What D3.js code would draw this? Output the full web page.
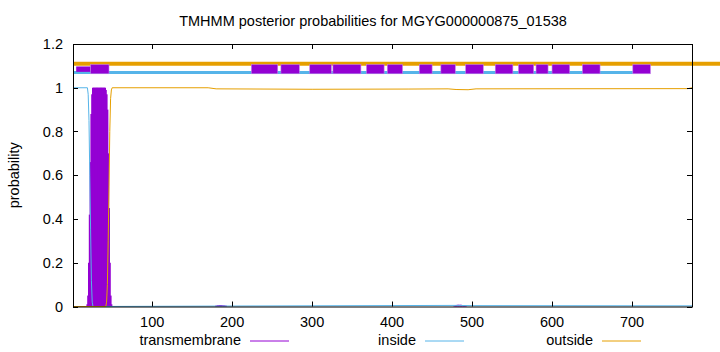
<!DOCTYPE html>
<html>
<head>
<meta charset="utf-8">
<script src="https://cdn.jsdelivr.net/npm/d3@7"></script>
<style>
  body { margin: 0; background: #fff; }
  svg { display: block; font-family: "Liberation Sans", Arial, sans-serif; }
</style>
</head>
<body>
<div id="chart"></div>
<script>
// TMHMM posterior probabilities

const title = "TMHMM posterior probabilities for MGYG000000875_01538";
const seqLength = 775;
const xTicks = [100, 200, 300, 400, 500, 600, 700];
const yTicks = [0, 0.2, 0.4, 0.6, 0.8, 1, 1.2];

// transmembrane posterior (impulses, residue -> probability)
const tmPos = [19, 20, 21, 22, 23, 24, 25, 26, 27, 28, 29, 30, 31, 32, 33, 34, 35, 36, 37, 38, 39, 40, 41, 42,
               43, 44, 45, 46, 47, 48, 49,
               180, 182, 184, 186, 188, 190, 192,
               478, 480, 482, 484, 486, 488, 490, 492];
const tmProb = [0.01, 0.05, 0.2, 0.42, 0.66, 0.88, 0.97, 1, 1, 1, 1, 1, 1, 1, 1, 1, 1, 1, 1, 1, 1, 1, 1, 0.99,
                0.97, 0.9, 0.7, 0.45, 0.2, 0.05, 0.01,
                0.004, 0.006, 0.007, 0.007, 0.006, 0.005, 0.004,
                0.004, 0.006, 0.008, 0.008, 0.008, 0.007, 0.006, 0.004];

// inside posterior (line)
const insidePos  = [1, 19, 20, 21, 22, 23, 24, 25, 26, 180, 480, 500, 775];
const insideProb = [1, 1, 0.97, 0.85, 0.6, 0.35, 0.12, 0.02, 0, 0.002, 0.005, 0.004, 0.003];

// outside posterior (line)
const outsidePos  = [1, 42, 43, 44, 45, 46, 47, 48, 49, 50, 170, 180, 300, 420, 470, 480, 495, 505, 770, 775];
const outsideProb = [0, 0, 0.02, 0.1, 0.3, 0.55, 0.8, 0.95, 0.99, 1, 1, 0.995, 0.993, 0.994, 0.995, 0.992, 0.991, 0.995, 0.996, 1];

// predicted topology segments drawn above the curves
const outsideSegs = [[1, 812]];
const insideSegs  = [[1, 701]];
const tmWeakSegs  = [[5, 23]];
const tmSegs = [[23, 46], [224, 257], [261, 284], [297, 324], [326, 361], [368, 390], [394, 413],
                [434, 450], [461, 479], [492, 514], [529, 551], [558, 577], [580, 595], [600, 622],
                [638, 660], [701, 723]];

const series = [
    { name: "transmembrane", color: "#9400D3" },
    { name: "inside", color: "#56B4E9" },
    { name: "outside", color: "#E69F00" }
];
const legendEnds = [241, 416, 593];

const width = 720, height = 352;
const margin = { top: 44, right: 28, bottom: 45.5, left: 73 };
const fontSize = 14.5;

let svg = d3.select("#chart")
    .append("svg")
    .attr("width", width)
    .attr("height", height);

let x = d3.scaleLinear()
    .domain([1, seqLength])
    .range([margin.left, width - margin.right]);

let y = d3.scaleLinear()
    .domain([0, 1.2])
    .range([height - margin.bottom, margin.top]);

const colorOf = name => series.find(s => s.name === name).color;

// transmembrane impulses
svg.append("g")
    .selectAll("line")
    .data(tmPos.map((p, i) => [p, tmProb[i]]))
    .join("line")
        .attr("x1", d => x(d[0]))
        .attr("x2", d => x(d[0]))
        .attr("y1", y(0))
        .attr("y2", d => y(d[1]))
        .attr("stroke", colorOf("transmembrane"))
        .attr("stroke-width", 2);

let line = d3.line()
    .x(d => x(d[0]))
    .y(d => y(d[1]));

svg.append("path")
    .attr("d", line(insidePos.map((p, i) => [p, insideProb[i]])))
    .attr("fill", "none")
    .attr("stroke", colorOf("inside"))
    .attr("stroke-width", 1);

svg.append("path")
    .attr("d", line(outsidePos.map((p, i) => [p, outsideProb[i]])))
    .attr("fill", "none")
    .attr("stroke", colorOf("outside"))
    .attr("stroke-width", 1);

// topology bars
svg.append("g")
    .selectAll("line")
    .data(outsideSegs)
    .join("line")
        .attr("x1", d => x(d[0])).attr("x2", d => x(d[1]))
        .attr("y1", y(1.11)).attr("y2", y(1.11))
        .attr("stroke", colorOf("outside"))
        .attr("stroke-width", 4);

svg.append("g")
    .selectAll("line")
    .data(insideSegs)
    .join("line")
        .attr("x1", d => x(d[0])).attr("x2", d => x(d[1]))
        .attr("y1", y(1.07)).attr("y2", y(1.07))
        .attr("stroke", colorOf("inside"))
        .attr("stroke-width", 3);

svg.append("g")
    .selectAll("rect")
    .data(tmWeakSegs)
    .join("rect")
        .attr("x", d => x(d[0]))
        .attr("width", d => x(d[1]) - x(d[0]))
        .attr("y", y(1.085) - 2.7)
        .attr("height", 5.4)
        .attr("fill", colorOf("transmembrane"));

svg.append("g")
    .selectAll("rect")
    .data(tmSegs)
    .join("rect")
        .attr("x", d => x(d[0]))
        .attr("width", d => x(d[1]) - x(d[0]))
        .attr("y", y(1.085) - 4.6)
        .attr("height", 9.2)
        .attr("fill", colorOf("transmembrane"))
        .attr("stroke", "#c27fe8")
        .attr("stroke-width", 0.6);

// frame
svg.append("rect")
    .attr("x", margin.left + 0.5)
    .attr("y", margin.top + 0.5)
    .attr("width", width - margin.left - margin.right)
    .attr("height", height - margin.top - margin.bottom)
    .attr("fill", "none")
    .attr("stroke", "#000")
    .attr("stroke-width", 1);

// ticks (inward, mirrored like gnuplot)
const tickLen = 5;
let ticks = svg.append("g").attr("stroke", "#000").attr("stroke-width", 1);
xTicks.forEach(t => {
    let px = Math.round(x(t)) + 0.5;
    ticks.append("line").attr("x1", px).attr("x2", px).attr("y1", y(0)).attr("y2", y(0) - tickLen);
    ticks.append("line").attr("x1", px).attr("x2", px).attr("y1", y(1.2)).attr("y2", y(1.2) + tickLen);
});
yTicks.forEach(t => {
    let py = Math.round(y(t)) + 0.5;
    ticks.append("line").attr("x1", x(1)).attr("x2", x(1) + tickLen).attr("y1", py).attr("y2", py);
    ticks.append("line").attr("x1", x(seqLength)).attr("x2", x(seqLength) - tickLen).attr("y1", py).attr("y2", py);
});

// tick labels
svg.append("g")
    .selectAll("text")
    .data(xTicks)
    .join("text")
        .attr("x", d => x(d))
        .attr("y", 327)
        .attr("text-anchor", "middle")
        .attr("font-size", fontSize)
        .text(d => d);

svg.append("g")
    .selectAll("text")
    .data(yTicks)
    .join("text")
        .attr("x", 63)
        .attr("y", d => y(d) + 5)
        .attr("text-anchor", "end")
        .attr("font-size", fontSize)
        .text(d => d);

// axis label & title
svg.append("text")
    .attr("transform", `translate(19,${(y(0) + y(1.2)) / 2}) rotate(-90)`)
    .attr("text-anchor", "middle")
    .attr("font-size", fontSize)
    .text("probability");

svg.append("text")
    .attr("x", 373)
    .attr("y", 26)
    .attr("text-anchor", "middle")
    .attr("font-size", fontSize)
    .text(title);

// legend
let legend = svg.append("g")
    .selectAll("g")
    .data(series)
    .join("g")
        .attr("transform", (d, i) => `translate(${legendEnds[i]},345)`);

legend.append("text")
    .attr("text-anchor", "end")
    .attr("font-size", fontSize)
    .text(d => d.name);

legend.append("line")
    .attr("x1", 9).attr("x2", 48)
    .attr("y1", -4).attr("y2", -4)
    .attr("stroke", d => d.color)
    .attr("stroke-width", 1);
</script>
</body>
</html>
